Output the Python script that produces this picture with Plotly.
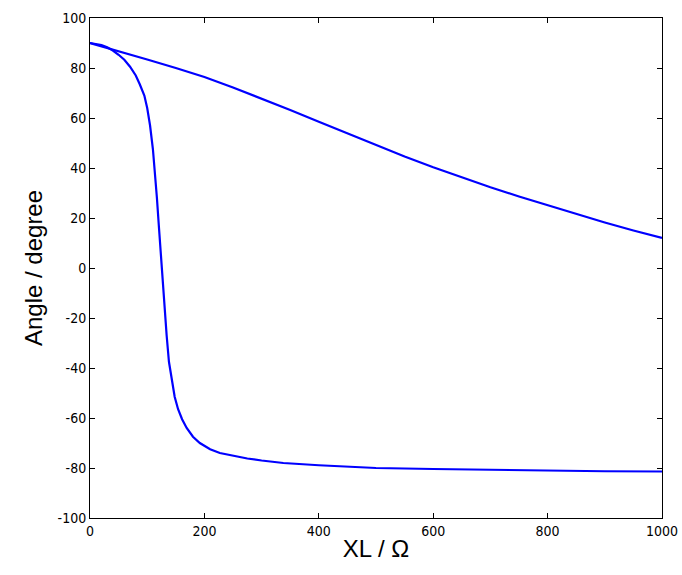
import plotly.graph_objects as go

# Upper curve
xl_upper = [0, 50, 100, 150, 200, 250, 300, 350, 400, 450, 500, 550, 600, 650, 700, 750, 800, 850, 900, 950, 1000]
ang_upper = [90, 86.8, 83.4, 80.0, 76.4, 72.2, 67.8, 63.2, 58.5, 53.8, 49.1, 44.6, 40.3, 36.2, 32.3, 28.6, 25.1, 21.5, 18.2, 15.0, 12.0]

# Lower curve
xl_lower = [0, 10, 20, 30, 40, 50, 60, 70, 80, 87, 95, 100, 105, 110, 114, 117, 120, 123, 126, 130, 134, 138, 143, 148, 154, 161, 169, 180, 192, 210, 227, 250, 275, 300, 338, 400, 455, 500, 600, 700, 800, 900, 1000]
ang_lower = [90, 89.7, 89.2, 88.3, 87.0, 85.3, 83.3, 80.5, 77.0, 73.5, 69.0, 64.0, 57.0, 47.5, 38.0, 28.0, 18.0, 8.0, -2.0, -14.0, -27.0, -37.5, -45.5, -51.5, -56.5, -60.5, -64.0, -67.5, -70.0, -72.5, -74.0, -75.2, -76.2, -77.0, -78.0, -78.9, -79.6, -80.0, -80.4, -80.8, -81.0, -81.3, -81.4]

x_ticks = [0, 200, 400, 600, 800, 1000]
y_ticks = [-100, -80, -60, -40, -20, 0, 20, 40, 60, 80, 100]

fig = go.Figure()
fig.add_trace(go.Scatter(x=xl_upper, y=ang_upper, mode="lines", line=dict(color="#0000ff", width=2.2)))
fig.add_trace(go.Scatter(x=xl_lower, y=ang_lower, mode="lines", line=dict(color="#0000ff", width=2.2)))

tick_font = dict(family="DejaVu Sans Condensed, Liberation Sans Narrow, Liberation Sans, Arial", size=14, color="black")
title_font = dict(family="Liberation Sans, Arial", size=24, color="black")

fig.update_layout(
    width=682, height=575,
    margin=dict(l=90, r=20, t=18, b=57, autoexpand=False),
    paper_bgcolor="white", plot_bgcolor="white",
    showlegend=False,
    xaxis=dict(range=[0, 1000], tickvals=x_ticks, ticktext=[str(v) for v in x_ticks],
               ticks="inside", ticklen=5, tickcolor="black", mirror="ticks", automargin=False,
               showline=True, linecolor="black", linewidth=1, showgrid=False, zeroline=False,
               tickfont=tick_font, title=dict(text="XL / Ω", font=title_font, standoff=2)),
    yaxis=dict(range=[-100, 100], tickvals=y_ticks, ticktext=[str(v) for v in y_ticks],
               ticks="inside", ticklen=5, tickcolor="black", mirror="ticks", automargin=False,
               showline=True, linecolor="black", linewidth=1, showgrid=False, zeroline=False,
               tickfont=tick_font, title=dict(text="Angle / degree", font=title_font, standoff=8)),
)

fig.write_html("out.html", config={"displayModeBar": False},
               post_script="document.body.style.margin='0';document.body.style.overflow='hidden';")
